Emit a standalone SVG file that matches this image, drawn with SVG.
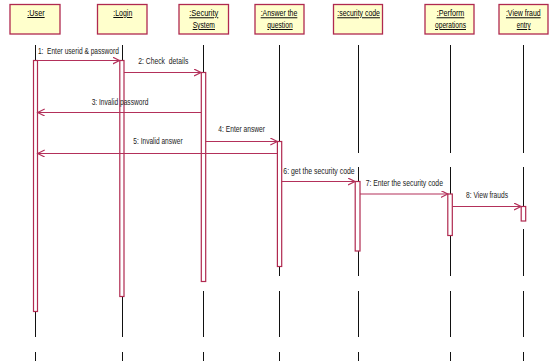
<svg xmlns="http://www.w3.org/2000/svg" width="552" height="361" viewBox="0 0 552 361">
  <style>
    .obj { fill: #FFFFCC; stroke: #B0294F; stroke-width: 1.3; }
    .name { font-family: "Liberation Sans", Arial, sans-serif; font-size: 9.5px; fill: #000; text-anchor: middle; text-decoration: underline; }
    .life { stroke: #111; stroke-width: 1; fill: none; }
    .act { fill: #fff; stroke: #B0294F; stroke-width: 1.2; }
    .msg { stroke: #B3305A; stroke-width: 1.2; fill: none; marker-end: url(#open); }
    .lbl { font-family: "Liberation Sans", Arial, sans-serif; font-size: 9.5px; fill: #222; text-anchor: middle; white-space: pre; }
  </style>
  <defs>
    <marker id="open" markerUnits="userSpaceOnUse" markerWidth="10" markerHeight="10" refX="7" refY="3.5" orient="auto">
      <path d="M0,0 L7,3.5 L0,7" fill="none" stroke="#B3305A" stroke-width="1.2"/>
    </marker>
  </defs>

  <rect width="552" height="361" fill="#fff"/>

  <!-- lifelines, drawn as broken vertical segments -->
  <g id="lifelines">
    <path class="life" d="M35.5,45V60 M35.5,311V337 M35.5,352V361"/>
    <path class="life" d="M122.5,45V60 M122.5,296V337 M122.5,352V361"/>
    <path class="life" d="M203.5,45V72 M203.5,291V337 M203.5,352V361"/>
    <path class="life" d="M279.5,45V141 M279.5,266V276 M279.5,291V337 M279.5,352V361"/>
    <path class="life" d="M358.5,45V153 M358.5,167V181 M358.5,251V276 M358.5,291V337 M358.5,352V361"/>
    <path class="life" d="M450.5,45V153 M450.5,167V194 M450.5,235V276 M450.5,291V337 M450.5,352V361"/>
    <path class="life" d="M523.5,45V153 M523.5,167V206 M523.5,229V276 M523.5,291V337 M523.5,352V361"/>
  </g>

  <!-- objects with their activation bars -->
  <g id="user">
    <rect class="obj" x="10" y="4.5" width="50" height="29.5"/>
    <text class="name" x="36" y="16" textLength="17.3" lengthAdjust="spacingAndGlyphs">:User</text>
    <rect class="act" x="33.5" y="60.5" width="4" height="251"/>
  </g>
  <g id="login">
    <rect class="obj" x="97.5" y="4.5" width="49.5" height="29.5"/>
    <text class="name" x="122.8" y="16" textLength="19" lengthAdjust="spacingAndGlyphs">:Login</text>
    <rect class="act" x="119.8" y="60.5" width="4.2" height="236"/>
  </g>
  <g id="security-system">
    <rect class="obj" x="179" y="4.5" width="49.5" height="29.5"/>
    <text class="name" x="203.8" y="16.3" textLength="29" lengthAdjust="spacingAndGlyphs">:Security</text>
    <text class="name" x="203.8" y="28" textLength="22.3" lengthAdjust="spacingAndGlyphs">System</text>
    <rect class="act" x="201.3" y="72.5" width="4.4" height="209"/>
  </g>
  <g id="answer-question">
    <rect class="obj" x="255" y="4.5" width="49" height="29.5"/>
    <text class="name" x="279" y="16.3" textLength="36.7" lengthAdjust="spacingAndGlyphs">:Answer the</text>
    <text class="name" x="280" y="28" textLength="25.3" lengthAdjust="spacingAndGlyphs">question</text>
    <rect class="act" x="277.4" y="141.5" width="4.3" height="125"/>
  </g>
  <g id="security-code">
    <rect class="obj" x="333.5" y="4.5" width="49" height="29.5"/>
    <text class="name" x="358.6" y="16.3" textLength="42.7" lengthAdjust="spacingAndGlyphs">:security code</text>
    <rect class="act" x="355.2" y="181.5" width="4.8" height="69.5"/>
  </g>
  <g id="perform-operations">
    <rect class="obj" x="425" y="4.5" width="49" height="29.5"/>
    <text class="name" x="450.5" y="16.3" textLength="27.7" lengthAdjust="spacingAndGlyphs">:Perform</text>
    <text class="name" x="450.5" y="28" textLength="31" lengthAdjust="spacingAndGlyphs">operations</text>
    <rect class="act" x="447.8" y="194" width="4.5" height="41.5"/>
  </g>
  <g id="view-fraud-entry">
    <rect class="obj" x="499" y="4.5" width="49" height="29.5"/>
    <text class="name" x="523.3" y="16.3" textLength="34.7" lengthAdjust="spacingAndGlyphs">:View fraud</text>
    <text class="name" x="523.7" y="28" textLength="14" lengthAdjust="spacingAndGlyphs">entry</text>
    <rect class="act" x="521.2" y="206.5" width="4.5" height="14.5"/>
  </g>

  <!-- messages -->
  <g id="connectors">
    <line class="msg" x1="37.7" y1="60.5" x2="119.5" y2="60.5"/>
    <line class="msg" x1="124" y1="72.5" x2="201" y2="72.5"/>
    <line class="msg" x1="201" y1="112.5" x2="37.7" y2="112.5"/>
    <line class="msg" x1="205.7" y1="141.5" x2="277.3" y2="141.5"/>
    <line class="msg" x1="277.3" y1="153.5" x2="37.7" y2="153.5"/>
    <line class="msg" x1="281.7" y1="181.5" x2="355" y2="181.5"/>
    <line class="msg" x1="360" y1="194" x2="447.7" y2="194"/>
    <line class="msg" x1="452.3" y1="206.5" x2="521" y2="206.5"/>

    <text class="lbl" x="78.4" y="53.7" textLength="81" lengthAdjust="spacingAndGlyphs">1:  Enter userid &amp; password</text>
    <text class="lbl" x="163.3" y="64.3" textLength="50" lengthAdjust="spacingAndGlyphs">2: Check  details</text>
    <text class="lbl" x="120" y="104.5" textLength="56.7" lengthAdjust="spacingAndGlyphs">3: Invalid password</text>
    <text class="lbl" x="241.7" y="132.3" textLength="46.7" lengthAdjust="spacingAndGlyphs">4: Enter answer</text>
    <text class="lbl" x="158" y="144.3" textLength="49.3" lengthAdjust="spacingAndGlyphs">5: Invalid answer</text>
    <text class="lbl" x="319" y="174" textLength="71.3" lengthAdjust="spacingAndGlyphs">6: get the security code</text>
    <text class="lbl" x="404.3" y="185.5" textLength="77.3" lengthAdjust="spacingAndGlyphs">7: Enter the security code</text>
    <text class="lbl" x="487" y="197.8" textLength="42" lengthAdjust="spacingAndGlyphs">8: View frauds</text>
  </g>
</svg>
